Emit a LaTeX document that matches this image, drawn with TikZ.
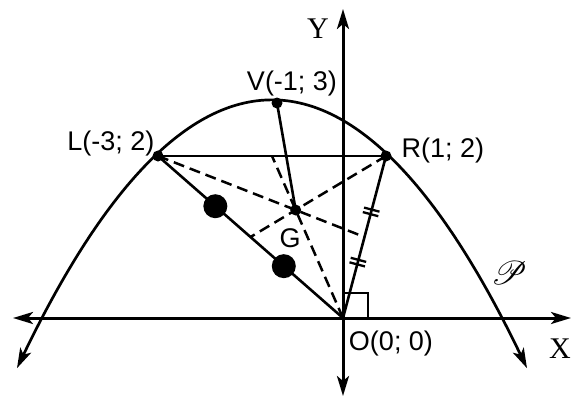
\documentclass[tikz,border=0pt]{standalone}
\usepackage{fontspec}
\setmainfont{Liberation Serif}
\newfontfamily\labfont{Liberation Sans}
\usepackage{mathrsfs}
\usepackage{graphicx}
\usetikzlibrary{arrows.meta,calc}
\begin{document}
\begin{tikzpicture}[x=1pt,y=-1pt,
  tip/.tip={Stealth[length=20pt,width=12pt,inset=5pt]},
  axis/.style={line width=3pt,tip-tip},
  curve/.style={line width=2.7pt,tip-tip},
  seg/.style={line width=2.6pt},
  dsh/.style={line width=2.5pt,dash pattern=on 11pt off 6pt},
  sdot/.style={circle,fill=black,inner sep=0pt,minimum size=11pt},
  bdot/.style={circle,fill=black,inner sep=0pt,minimum size=24pt},
  lab/.style={font=\labfont\fontsize{27}{30}\selectfont,inner sep=0pt,anchor=base},
  axl/.style={font=\fontsize{30}{34}\selectfont,inner sep=0pt,anchor=base},
  tick/.style={line width=2.3pt}
]
\path[use as bounding box] (0,0) rectangle (574,397);
\fill[white] (0,0) rectangle (574,397);

% key points
\coordinate (O) at (343,318);
\coordinate (L) at (158,156);
\coordinate (R) at (386,156);
\coordinate (V) at (277,103);
\coordinate (G) at ($0.3333*(L)+0.3333*(R)+0.3334*(O)$);
\coordinate (Mro) at ($(R)!0.5!(O)$);
\coordinate (Mlo) at ($(L)!0.5!(O)$);
\coordinate (Mlr) at ($(L)!0.5!(R)$);
\coordinate (Xl) at (13,318);
\coordinate (Xr) at (571,318);
\coordinate (Yb) at (343,396);
\coordinate (Yt) at (343,9);
\coordinate (Pl) at (17,368.2);
\coordinate (Pr) at (527,368.2);

% parabola
\draw[curve] (Pl) .. controls (187,14.6) and (357,14.6) .. (Pr);

% axes
\draw[axis] (Xl) -- (Xr);
\draw[axis] (Yb) -- (Yt);

% right angle mark
\coordinate (Q1) at (343,293);
\coordinate (Q2) at (368,293);
\coordinate (Q3) at (368,318);
\draw[seg] (Q1) -- (Q2) -- (Q3);

% triangle and medians
\draw[seg] (L) -- (R);
\draw[seg] (L) -- (O);
\draw[seg] (R) -- (O);
\draw[seg] (V) -- (G);
\draw[dsh] (L) -- (Mro);
\draw[dsh] (R) -- (Mlo);
\draw[dsh] (O) -- (Mlr);

% double ticks on RO
\foreach \t in {0.345,0.655}{
  \foreach \s in {-0.014,0.014}{
    \coordinate (T) at ($(R)!\t+\s!(O)$);
    \draw[tick] ($(T)!8pt!90:(O)$) -- ($(T)!8pt!-90:(O)$);
  }
}

% equal-segment dots on LO
\node[bdot] (D1) at ($(L)!0.31!(O)$) {};
\node[bdot] (D2) at ($(L)!0.68!(O)$) {};

% points
\node[sdot] (nL) at (L) {};
\node[sdot] (nR) at (R) {};
\node[sdot] (nV) at (V) {};
\node[sdot] (nG) at (G) {};

% labels
\node[lab] (lL) at (111,150) {L(-3; 2)};
\node[lab] (lV) at (292,90) {V(-1; 3)};
\node[lab] (lR) at (443,157) {R(1; 2)};
\node[lab] (lG) at (290,247) {G};
\node[lab] (lO) at (391,350) {O(0; 0)};
\node[axl] (lY) at (318,38) {Y};
\node[axl] (lX) at (560,358) {X};
\node[inner sep=0pt] (lP) at (509,273) {\resizebox{36pt}{!}{$\mathscr{P}$}};
\end{tikzpicture}
\end{document}
